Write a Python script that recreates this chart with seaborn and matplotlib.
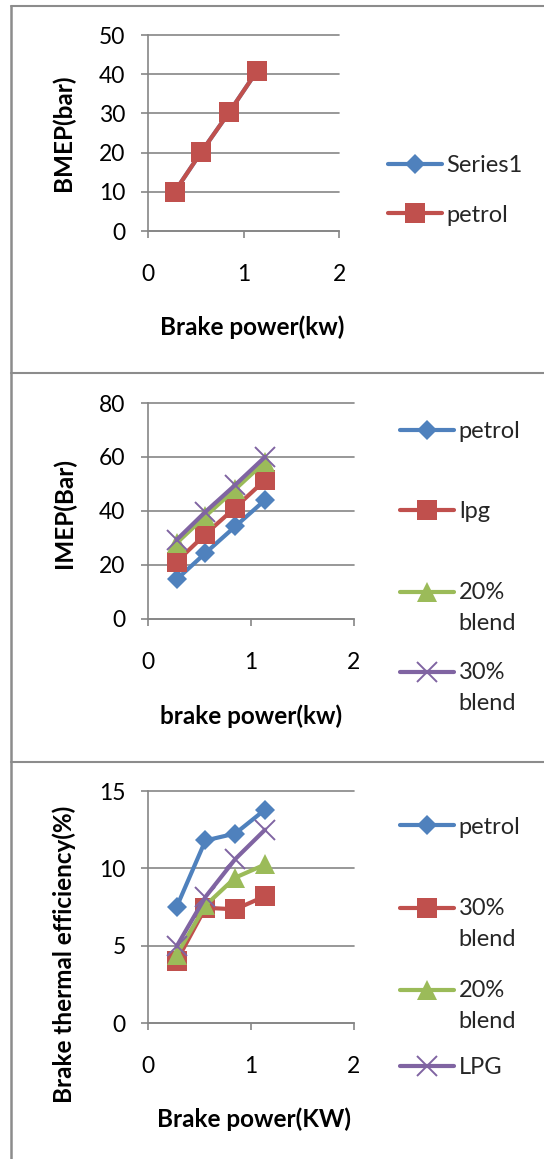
import numpy as np
import seaborn as sns
import matplotlib.pyplot as plt
from matplotlib.lines import Line2D
from matplotlib.legend import Legend

# values
brake_power = [0.28, 0.56, 0.85, 1.14]

bmep_series1 = [10.0, 20.2, 30.3, 40.8]
bmep_petrol = [10.0, 20.2, 30.3, 40.8]

imep_petrol = [14.5, 24.3, 34.2, 44.0]
imep_lpg = [21.1, 31.3, 41.2, 51.4]
imep_blend20 = [28.0, 38.0, 48.0, 58.2]
imep_blend30 = [29.2, 39.6, 49.6, 60.0]

bte_petrol = [7.5, 11.8, 12.25, 13.8]
bte_blend30 = [4.0, 7.45, 7.35, 8.2]
bte_blend20 = [4.4, 7.6, 9.4, 10.25]
bte_lpg = [4.95, 8.15, 10.6, 12.5]

# Excel 2007 palette
blue, red, green, purple = '#4F81BD', '#C0504D', '#9BBB59', '#8064A2'
grid = '#868686'
frame = '#8c8c8c'
marker_size = {'D': 10.5, 's': 14.5, '^': 14.5, 'x': 14}

sns.set_theme(style='white')
plt.rcParams['font.family'] = ['Lato', 'DejaVu Sans']

W, H = 544, 1159
fig = plt.figure(figsize=(W / 100, H / 100), dpi=100)


def box(left, top, right, bottom):
    # pixel box -> figure fraction
    return [left / W, 1 - bottom / H, (right - left) / W, (bottom - top) / H]


def draw(ax, series):
    for label, values, color, marker in series:
        sns.lineplot(x=brake_power, y=values, ax=ax, color=color, marker=marker,
                     markersize=marker_size[marker], markeredgecolor=color,
                     markeredgewidth=1.4 if marker == 'x' else 0,
                     linewidth=3.0, label=label, legend=False)


def style_axes(ax, ymax, ystep, xlabel, ylabel, xlab_pos, ylab_pos):
    ax.set_facecolor('none')
    ax.set_xlim(0, 2)
    ax.set_xticks([0, 1, 2])
    ax.set_ylim(0, ymax)
    ax.set_yticks(np.arange(0, ymax + 1, ystep))
    ax.yaxis.grid(True, color=grid, linewidth=1.2)
    ax.xaxis.grid(False)
    for gl in ax.get_ygridlines():
        gl.set_clip_on(False)
    for s in ['top', 'right']:
        ax.spines[s].set_visible(False)
    for s in ['left', 'bottom']:
        ax.spines[s].set_color(grid)
        ax.spines[s].set_linewidth(1.2)
    ax.tick_params(axis='both', direction='out', length=5, width=1.2, color=grid,
                   labelsize=16.5, labelcolor='black', bottom=True, left=True)
    ax.tick_params(axis='x', pad=19)
    ax.tick_params(axis='y', pad=11)
    ax.set_xlabel(xlabel, fontsize=17.5, fontweight='bold', color='black')
    ax.set_ylabel(ylabel, fontsize=17.5, fontweight='bold', color='black')
    ax.xaxis.set_label_coords(*xlab_pos)
    ax.yaxis.set_label_coords(*ylab_pos)
    ax.yaxis.label.set_va('center')


pitch = 31.7  # px between the two lines of a wrapped legend label


def excel_legend(ax, x_px, ys_px):
    handles, labels = ax.get_legend_handles_labels()
    for h, lab, y in zip(handles, labels, ys_px):
        two_lines = '\n' in lab
        yc = y + (pitch / 2 if two_lines else 0)
        leg = Legend(ax, [h], [lab], loc='center left',
                     bbox_to_anchor=(x_px / W, 1 - yc / H), bbox_transform=fig.transFigure,
                     frameon=False, numpoints=1, handlelength=2.29, handletextpad=0.2,
                     borderpad=0, borderaxespad=0, fontsize=17)
        for t in leg.get_texts():
            t.set_linespacing(1.62)
        if two_lines:
            hl = leg.legend_handles[0]
            hl.set_ydata(np.asarray(hl.get_ydata()) + pitch / 2 * 0.72)
        ax.add_artist(leg)


# panel 1: BMEP
ax1 = fig.add_axes(box(147.8, 35, 339.3, 231))
draw(ax1, [('Series1', bmep_series1, blue, 'D'),
           ('petrol', bmep_petrol, red, 's')])
style_axes(ax1, 50, 10, 'Brake power(kw)', 'BMEP(bar)', (0.546, -0.430), (-0.441, 0.5))
excel_legend(ax1, 387.6, [166, 215])

# panel 2: IMEP
ax2 = fig.add_axes(box(147.8, 403, 353.6, 618.5))
draw(ax2, [('petrol', imep_petrol, blue, 'D'),
           ('lpg', imep_lpg, red, 's'),
           ('20%\nblend', imep_blend20, green, '^'),
           ('30%\nblend', imep_blend30, purple, 'x')])
style_axes(ax2, 80, 20, 'brake power(kw)', 'IMEP(Bar)', (0.504, -0.397), (-0.406, 0.488))
excel_legend(ax2, 400, [432, 512, 592, 672])

# panel 3: brake thermal efficiency
ax3 = fig.add_axes(box(147.8, 791, 353.6, 1023))
draw(ax3, [('petrol', bte_petrol, blue, 'D'),
           ('30%\nblend', bte_blend30, red, 's'),
           ('20%\nblend', bte_blend20, green, '^'),
           ('LPG', bte_lpg, purple, 'x')])
style_axes(ax3, 15, 5, 'Brake power(KW)', 'Brake thermal efficiency(%)',
           (0.517, -0.362), (-0.406, 0.297))
excel_legend(ax3, 400, [827, 908, 990, 1068])

# chart frames as pasted in the document
for y in [6, 372.5, 761.5]:
    fig.add_artist(Line2D([10.5 / W, 1], [1 - y / H] * 2, transform=fig.transFigure,
                          color=frame, lw=1.5))
fig.add_artist(Line2D([10.5 / W] * 2, [1 - 6 / H, 0], transform=fig.transFigure,
                      color=frame, lw=1.8))

fig.savefig('out.png', dpi=100, facecolor='white')
